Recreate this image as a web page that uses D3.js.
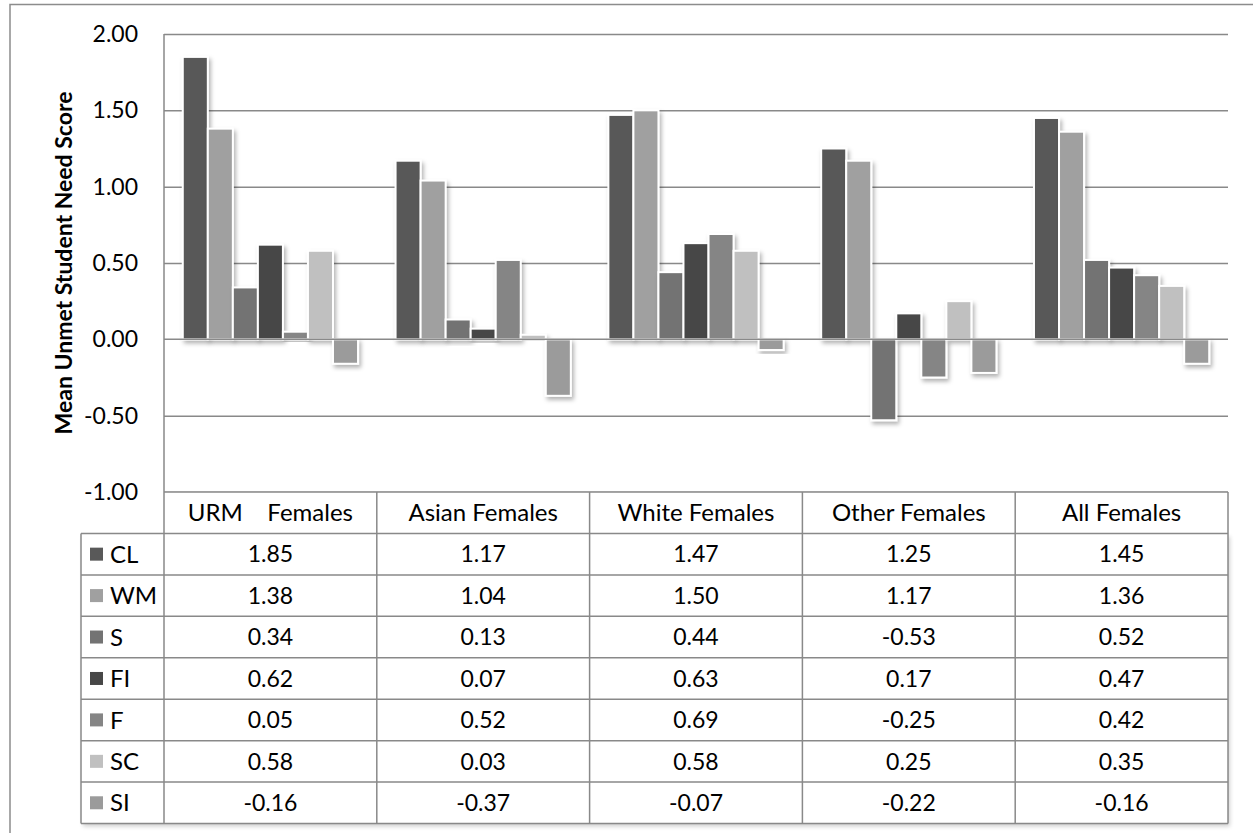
<!DOCTYPE html>
<html>
<head>
<meta charset="utf-8">
<script src="https://cdn.jsdelivr.net/npm/d3@7"></script>
<style>
  html, body { margin: 0; padding: 0; background: #fff; }
  svg { display: block; font-family: Lato, "Open Sans", sans-serif; }
</style>
</head>
<body>
<svg id="chart" width="1253" height="833"></svg>
<script>
// Groups along the x axis (header row of the data table)
const categories = ["URM    Females", "Asian Females", "White Females", "Other Females", "All Females"];

// Measure series, in drawing order
const seriesNames = ["CL", "WM", "S", "FI", "F", "SC", "SI"];

// Mean unmet need score per group, one array per measure
const CL = [1.85, 1.17, 1.47, 1.25, 1.45];
const WM = [1.38, 1.04, 1.50, 1.17, 1.36];
const S  = [0.34, 0.13, 0.44, -0.53, 0.52];
const FI = [0.62, 0.07, 0.63, 0.17, 0.47];
const F  = [0.05, 0.52, 0.69, -0.25, 0.42];
const SC = [0.58, 0.03, 0.58, 0.25, 0.35];
const SI = [-0.16, -0.37, -0.07, -0.22, -0.16];

// Value axis tick values
const yTicks = [-1.00, -0.50, 0.00, 0.50, 1.00, 1.50, 2.00];

const seriesValues = { CL, WM, S, FI, F, SC, SI };
const seriesColors = {
  CL: "#595959", WM: "#a0a0a0", S: "#737373", FI: "#474747",
  F: "#858585", SC: "#c0c0c0", SI: "#9b9b9b"
};

const fmt = d3.formatLocale({ decimal: ".", thousands: ",", grouping: [3], currency: ["", ""], minus: "-" }).format(".2f");

const svg = d3.select("#chart");
const gridColor = "#898989";
const numSize = 23, labelSize = 24;

// Plot geometry
const plotLeft = 164, plotRight = 1228, plotTop = 34, plotBottom = 492;
const rowH = (823.5 - plotBottom) / 8;
const tableLeft = 81;

const x0 = d3.scaleBand().domain(categories).range([plotLeft, plotRight]).padding(0);
const x1 = d3.scaleBand().domain(seriesNames).range([0, x0.bandwidth()]).paddingInner(0).paddingOuter(0.75);
const y = d3.scaleLinear().domain([-1, 2]).range([plotBottom, plotTop]);

// Drop shadow used by the bars and the table
const defs = svg.append("defs");
const shadow = defs.append("filter").attr("id", "shadow")
  .attr("x", "-20%").attr("y", "-20%").attr("width", "150%").attr("height", "150%");
shadow.append("feDropShadow")
  .attr("dx", 2).attr("dy", 3).attr("stdDeviation", 2)
  .attr("flood-color", "#000").attr("flood-opacity", 0.3);

// Outer chart frame
svg.append("rect")
  .attr("x", 10).attr("y", 4.5).attr("width", 1300).attr("height", 900)
  .attr("fill", "none").attr("stroke", "#8c8c8c").attr("stroke-width", 1.5);

// Horizontal gridlines
const grid = svg.append("g").attr("transform", `translate(${plotLeft},0)`)
  .call(d3.axisLeft(y).tickValues(yTicks.filter(v => v !== 0)).tickSize(-(plotRight - plotLeft)).tickFormat(""));
grid.select(".domain").remove();
grid.selectAll("line").attr("stroke", gridColor).attr("stroke-width", 1.5);

// Bars
const barData = [];
categories.forEach((c, i) => seriesNames.forEach(s => barData.push({ cat: c, s, v: seriesValues[s][i] })));

svg.append("g").selectAll("rect").data(barData).join("rect")
  .attr("x", d => x0(d.cat) + x1(d.s))
  .attr("width", x1.bandwidth())
  .attr("y", d => y(Math.max(0, d.v)))
  .attr("height", d => Math.abs(y(d.v) - y(0)))
  .attr("fill", d => seriesColors[d.s])
  .attr("stroke", "#fff").attr("stroke-width", 2)
  .attr("filter", "url(#shadow)");

// Zero line over the bars
svg.append("line")
  .attr("x1", plotLeft).attr("x2", plotRight).attr("y1", y(0)).attr("y2", y(0))
  .attr("stroke", gridColor).attr("stroke-width", 1.5);

// Value axis labels
const yAxis = svg.append("g").attr("transform", `translate(${plotLeft},0)`)
  .call(d3.axisLeft(y).tickValues(yTicks).tickSize(0).tickPadding(26).tickFormat(fmt));
yAxis.select(".domain").remove();
yAxis.selectAll("text").attr("font-size", numSize).attr("fill", "#000").attr("font-family", "Lato, sans-serif");

// Axis title
svg.append("text")
  .attr("transform", `translate(72,${(plotTop + plotBottom) / 2}) rotate(-90)`)
  .attr("text-anchor", "middle")
  .attr("font-size", 23).attr("font-weight", "bold").attr("fill", "#000")
  .text("Mean Unmet Student Need Score");

// Data table
const table = svg.append("g");
const lineAttr = sel => sel.attr("stroke", gridColor).attr("stroke-width", 1.5);

// Table drop shadow backing
table.append("rect")
  .attr("x", tableLeft).attr("y", plotBottom + rowH)
  .attr("width", plotRight - tableLeft).attr("height", rowH * 7)
  .attr("fill", "#fff").attr("filter", "url(#shadow)").attr("opacity", 0.6);
table.append("rect")
  .attr("x", plotLeft).attr("y", plotBottom)
  .attr("width", plotRight - plotLeft).attr("height", rowH * 8)
  .attr("fill", "#fff");
table.append("rect")
  .attr("x", tableLeft).attr("y", plotBottom + rowH)
  .attr("width", plotRight - tableLeft).attr("height", rowH * 7)
  .attr("fill", "#fff");

// Horizontal table rules
d3.range(9).forEach(r => {
  const yy = plotBottom + r * rowH;
  table.append("line")
    .attr("x1", r === 0 ? plotLeft : tableLeft).attr("x2", plotRight)
    .attr("y1", yy).attr("y2", yy).call(lineAttr);
});

// Plot area left edge running down through the table
table.append("line")
  .attr("x1", plotLeft).attr("x2", plotLeft).attr("y1", plotTop).attr("y2", plotBottom + rowH * 8).call(lineAttr);
// Table left edge
table.append("line")
  .attr("x1", tableLeft).attr("x2", tableLeft).attr("y1", plotBottom + rowH).attr("y2", plotBottom + rowH * 8).call(lineAttr);
// Column separators
categories.forEach(c => {
  const xx = x0(c) + x0.bandwidth();
  table.append("line")
    .attr("x1", xx).attr("x2", xx).attr("y1", plotBottom).attr("y2", plotBottom + rowH * 8).call(lineAttr);
});

// Header labels
table.selectAll("text.hdr").data(categories).join("text")
  .attr("class", "hdr")
  .attr("x", d => x0(d) + x0.bandwidth() / 2)
  .attr("y", plotBottom + rowH / 2)
  .attr("dy", "0.36em")
  .attr("text-anchor", "middle")
  .attr("font-size", labelSize).attr("fill", "#000")
  .style("white-space", "pre")
  .text(d => d);

// Series rows: legend key, name, values
seriesNames.forEach((s, r) => {
  const cy = plotBottom + (r + 1.5) * rowH;
  table.append("rect")
    .attr("x", 90).attr("y", cy - 6.5).attr("width", 13).attr("height", 13)
    .attr("fill", seriesColors[s]);
  table.append("text")
    .attr("x", 110).attr("y", cy).attr("dy", "0.36em")
    .attr("font-size", labelSize).attr("fill", "#000")
    .text(s);
  table.selectAll(null).data(seriesValues[s]).join("text")
    .attr("x", (d, i) => x0(categories[i]) + x0.bandwidth() / 2)
    .attr("y", cy).attr("dy", "0.36em")
    .attr("text-anchor", "middle")
    .attr("font-size", numSize).attr("fill", "#000")
    .text(d => fmt(d));
});
</script>
</body>
</html>
